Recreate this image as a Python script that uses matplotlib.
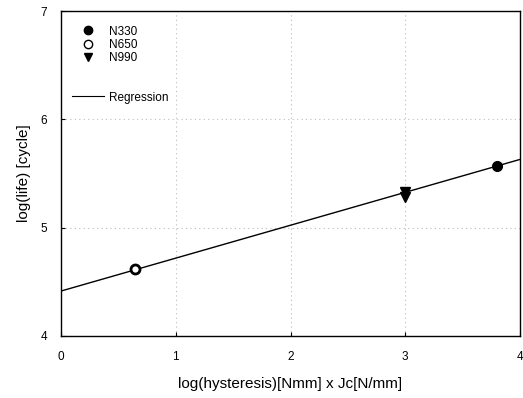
import matplotlib
matplotlib.use("Agg")
import matplotlib.pyplot as plt
from matplotlib.lines import Line2D
import numpy as np

plt.rcParams['font.family'] = ['Liberation Sans', 'DejaVu Sans']

n330_x = [3.80]
n330_y = [5.57]
n650_x = [0.645]
n650_y = [4.62]
n990_x = [3.0, 3.0]
n990_y = [5.33, 5.28]
reg_x = [0.0, 4.0]
reg_y = [4.415, 5.63]

xticks = [0, 1, 2, 3, 4]
yticks = [4, 5, 6, 7]

fig = plt.figure(figsize=(5.23, 3.98), dpi=100)
ax = fig.add_axes([61/523, 1-336/398, (520-61)/523, (336-11)/398])

ax.plot(reg_x, reg_y, color='black', lw=1.0, zorder=2)
ax.plot(n330_x, n330_y, 'o', color='black', ms=7, zorder=3)
ax.plot(n650_x, n650_y, 'o', mfc='white', mec='black', mew=2, ms=6.5, zorder=3)
ax.plot(n990_x, n990_y, 'v', color='black', ms=7, zorder=3)

ax.set_xlim(0, 4)
ax.set_ylim(4, 7)
ax.set_xticks(xticks)
ax.set_yticks(yticks)
ax.tick_params(direction='in', length=3, labelsize=8.5)
ax.tick_params(axis='x', pad=11)
ax.tick_params(axis='y', pad=10)
ax.grid(True, color='#bbbbbb', ls=(0, (1, 3)), lw=0.8)
for s in ax.spines.values():
    s.set_linewidth(1.0)

ax.set_xlabel('log(hysteresis)[Nmm] x Jc[N/mm]', fontsize=11, labelpad=10)
ax.set_ylabel('log(life) [cycle]', fontsize=11, labelpad=7)

handles = [
    Line2D([], [], marker='o', ls='', color='black', ms=6),
    Line2D([], [], marker='o', ls='', mfc='white', mec='black', ms=6),
    Line2D([], [], marker='v', ls='', color='black', ms=6),
    Line2D([], [], ls='', marker=''),
    Line2D([], [], ls='', marker=''),
    Line2D([], [], color='black', lw=0.8),
]
labels = ['N330', 'N650', 'N990', '', '', 'Regression']
ax.legend(handles, labels, loc='upper left', bbox_to_anchor=(0, 1 - 4/325),
          frameon=False, fontsize=8.5,
          handlelength=2.7, handletextpad=0.5, labelspacing=0.1,
          borderaxespad=0.5, borderpad=0.4)

fig.savefig('out.png', dpi=100)
